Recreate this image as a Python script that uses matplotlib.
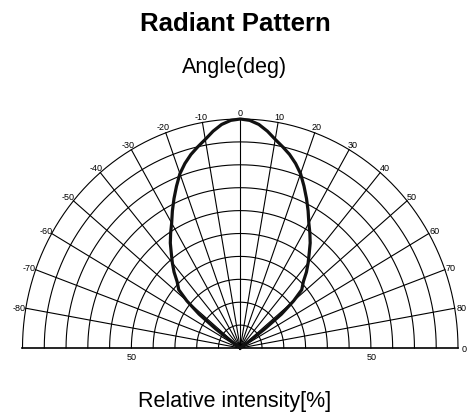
import numpy as np
import matplotlib.pyplot as plt

plt.rcParams['font.family'] = ['Liberation Sans', 'DejaVu Sans']

# radiant pattern, right half (angle in deg, relative intensity in %)
half_angle = [0, 2.5, 5, 7.5, 10, 12.5, 15, 17.5, 20, 22.5, 25, 27.5, 30, 32.5, 35, 37.5,
              40, 42.5, 45, 48, 50, 52, 53.5, 55, 56.5]
half_intensity = [100, 99.5, 98, 95.5, 92.5, 90, 87.5, 84.5, 81, 76.5, 72, 67.5, 63, 59.5,
                  56, 52, 48.5, 45, 41, 38, 32, 24, 14, 4, 0]

# the pattern is symmetric about 0 deg
angle_deg = [-a for a in half_angle[::-1]] + half_angle[1:]
intensity = half_intensity[::-1] + half_intensity[1:]

grid_angles = list(range(-80, 90, 10))
angle_labels = [str(a) for a in grid_angles] + ['0']
label_angles = grid_angles + [90]
rings = list(range(10, 101, 10))
bottom_labels = ['50', '50']
bottom_pos = [-50, 60.5]

W, H = 470, 416
fig = plt.figure(figsize=(W / 100, H / 100), dpi=100)
ax = fig.add_axes([22.5 / W, (H - 348) / H, (458 - 22.5) / W, (348 - 119) / H])
ax.set_xlim(-100, 100)
ax.set_ylim(0, 100)
ax.axis('off')

# grid rings and spokes (x = r sin(theta), y = r cos(theta))
t = np.radians(np.linspace(-90, 90, 361))
for r in rings:
    ax.plot(r * np.sin(t), r * np.cos(t), color='black', lw=0.8, clip_on=False)
for a in grid_angles:
    th = np.radians(a)
    ax.plot([0, 100 * np.sin(th)], [0, 100 * np.cos(th)], color='black', lw=0.8, clip_on=False)
ax.plot([-100, 100], [0, 0], color='black', lw=1.2, clip_on=False)

# angle labels just outside the outer ring
for a, lab in zip(label_angles, angle_labels):
    th = np.radians(a)
    ax.text(103 * np.sin(th), 103 * np.cos(th) - 0.6, lab, fontsize=6.5,
            ha='center', va='center')

for x, lab in zip(bottom_pos, bottom_labels):
    ax.text(x, -4, lab, fontsize=6.5, ha='center', va='center')

th = np.radians(angle_deg)
r = np.array(intensity)
ax.plot(r * np.sin(th), r * np.cos(th), color='#111111', lw=2.3, clip_on=False,
        solid_joinstyle='round')

fig.text(0.5, 1 - 24 / H, 'Radiant Pattern', fontsize=18.5, fontweight='bold',
         ha='center', va='center')
fig.text(0.5, 1 - 68 / H, 'Angle(deg)', fontsize=15.5, ha='center', va='center')
fig.text(0.5, 1 - 401 / H, 'Relative intensity[%]', fontsize=15.5, ha='center', va='center')

fig.savefig('out.png', dpi=100)
